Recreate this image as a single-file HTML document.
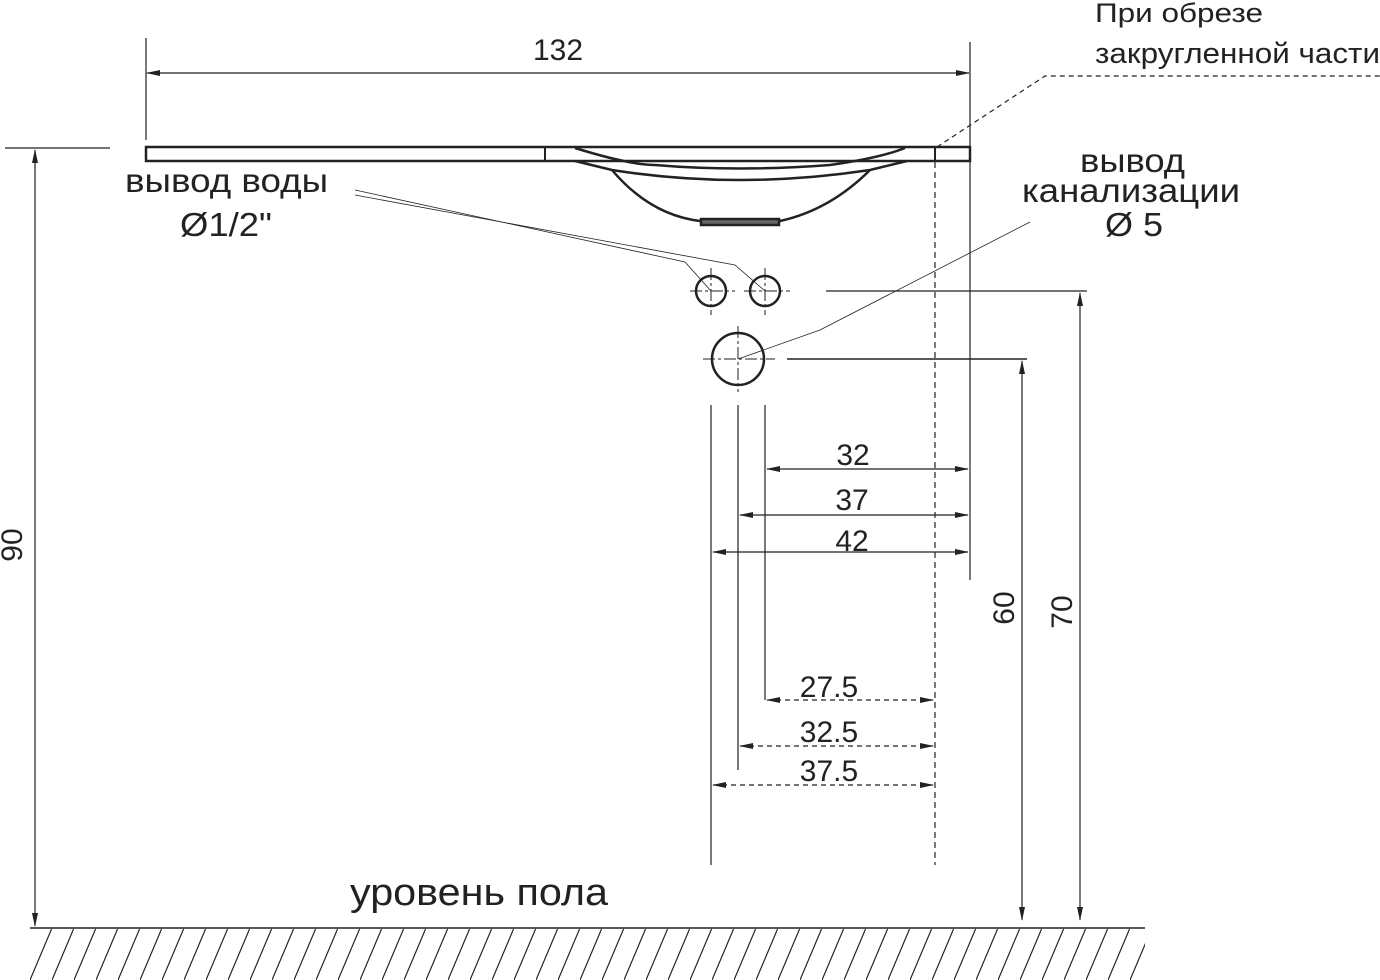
<!DOCTYPE html>
<html><head><style>body{margin:0;background:#fff}svg{display:block}text{font-family:"Liberation Sans",sans-serif;fill:#222}</style></head>
<body>
<svg width="1380" height="980" viewBox="0 0 1380 980" xmlns="http://www.w3.org/2000/svg">
<defs>
<marker id="a" markerWidth="14" markerHeight="8" refX="13" refY="4" orient="auto-start-reverse" markerUnits="userSpaceOnUse"><path d="M0,1 L14,4 L0,7 z" fill="#222"/></marker>
<pattern id="h" width="22" height="52" patternUnits="userSpaceOnUse" x="30" y="928"><line x1="22" y1="0" x2="0" y2="52" stroke="#222" stroke-width="1.2"/></pattern>
</defs>
<g stroke="#222" fill="none" stroke-width="1.2">
<line x1="146" y1="38" x2="146" y2="140"/>
<line x1="970" y1="42" x2="970" y2="580"/>
<line x1="147" y1="73" x2="969" y2="73" marker-start="url(#a)" marker-end="url(#a)"/>
<rect x="146" y="147" width="824" height="14" stroke-width="2.5"/>
<line x1="545" y1="147" x2="545" y2="161" stroke-width="2"/>
<line x1="935" y1="147" x2="935" y2="161" stroke-width="2"/>
<g stroke-width="2.5">
<path d="M575,148 Q630,165 655,165 Q738,172 830,165 Q880,158 905,148"/>
<path d="M575,161 L612,170 Q738,190 870,170 L907,161"/>
<path d="M612,170 Q650,215 700,221 L780,221 Q830,210 870,170"/>
<rect x="701" y="219" width="78" height="6" fill="#666"/>
</g>
<line x1="5" y1="148" x2="110" y2="148"/>
<line x1="35" y1="150" x2="35" y2="926" marker-start="url(#a)" marker-end="url(#a)"/>
<line x1="30" y1="928" x2="1145" y2="928" stroke-width="1.5"/>
<rect x="30" y="929" width="1115" height="51" fill="url(#h)" stroke="none"/>
<g stroke-width="2.5">
<circle cx="711" cy="291" r="15"/><circle cx="765" cy="291" r="15"/><circle cx="738" cy="359" r="26"/>
</g>
<g stroke-width="1" stroke-dasharray="12 3 3 3">
<line x1="690" y1="291" x2="735" y2="291"/><line x1="744" y1="291" x2="790" y2="291"/>
<line x1="711" y1="268" x2="711" y2="315"/><line x1="765" y1="268" x2="765" y2="315"/>
<line x1="703" y1="359" x2="775" y2="359"/><line x1="738" y1="326" x2="738" y2="392"/>
</g>
<line x1="826" y1="291" x2="1087" y2="291"/>
<line x1="1080" y1="293" x2="1080" y2="920" marker-start="url(#a)" marker-end="url(#a)"/>
<line x1="787" y1="359" x2="1027" y2="359" stroke-width="1.5"/>
<line x1="1022" y1="361" x2="1022" y2="920" marker-start="url(#a)" marker-end="url(#a)"/>
<line x1="711" y1="405" x2="711" y2="865"/>
<line x1="738" y1="405" x2="738" y2="770"/>
<line x1="765" y1="405" x2="765" y2="700"/>
<line x1="935" y1="162" x2="935" y2="865" stroke-dasharray="6 4"/>
<line x1="767" y1="469" x2="968" y2="469" marker-start="url(#a)" marker-end="url(#a)"/>
<line x1="740" y1="515" x2="968" y2="515" marker-start="url(#a)" marker-end="url(#a)"/>
<line x1="713" y1="552" x2="968" y2="552" marker-start="url(#a)" marker-end="url(#a)"/>
<g stroke-dasharray="5 4">
<line x1="767" y1="700" x2="933" y2="700" marker-start="url(#a)" marker-end="url(#a)"/>
<line x1="740" y1="746" x2="933" y2="746" marker-start="url(#a)" marker-end="url(#a)"/>
<line x1="713" y1="785" x2="933" y2="785" marker-start="url(#a)" marker-end="url(#a)"/>
<polyline points="937,147 1045,76 1380,76"/>
</g>
<g stroke-width="0.8">
<polyline points="355,190 685,262 711,291"/>
<polyline points="355,195 735,265 765,291"/>
<polyline points="1030,222 820,330 738,359"/>
</g>
</g>
<g font-size="30">
<text x="558" y="60" text-anchor="middle">132</text>
<text x="1095" y="22" font-size="27" textLength="168" lengthAdjust="spacingAndGlyphs">При обрезе</text>
<text x="1095" y="63" font-size="29" textLength="285" lengthAdjust="spacingAndGlyphs">закругленной части</text>
<text x="125" y="192" font-size="33" textLength="203" lengthAdjust="spacingAndGlyphs">вывод воды</text>
<text x="180" y="236" font-size="33" textLength="92" lengthAdjust="spacingAndGlyphs">Ø1/2"</text>
<text x="1080" y="172" font-size="33" textLength="105" lengthAdjust="spacingAndGlyphs">вывод</text>
<text x="1022" y="202" font-size="33" textLength="218" lengthAdjust="spacingAndGlyphs">канализации</text>
<text x="1105" y="236" font-size="33" textLength="58" lengthAdjust="spacingAndGlyphs">Ø 5</text>
<text x="853" y="465" text-anchor="middle">32</text>
<text x="852" y="510" text-anchor="middle">37</text>
<text x="852" y="551" text-anchor="middle">42</text>
<text x="829" y="697" text-anchor="middle">27.5</text>
<text x="829" y="742" text-anchor="middle">32.5</text>
<text x="829" y="781" text-anchor="middle">37.5</text>
<text x="350" y="905" font-size="38" textLength="258" lengthAdjust="spacingAndGlyphs">уровень пола</text>
<text transform="translate(22,545) rotate(-90)" text-anchor="middle">90</text>
<text transform="translate(1014,608) rotate(-90)" text-anchor="middle">60</text>
<text transform="translate(1072,612) rotate(-90)" text-anchor="middle">70</text>
</g>
</svg>
</body></html>
